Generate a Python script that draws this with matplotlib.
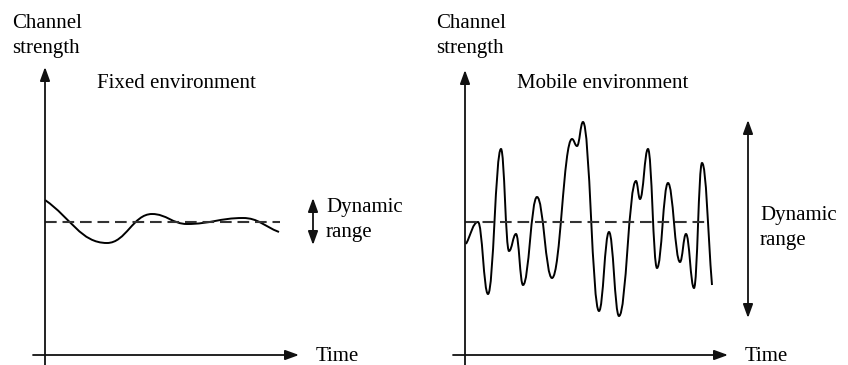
import matplotlib
matplotlib.use("Agg")
import matplotlib.pyplot as plt
from matplotlib.path import Path
from matplotlib.patches import PathPatch

plt.rcParams['font.family'] = ['Liberation Serif', 'DejaVu Serif']

W, H = 848, 365
FS = 15

# fixed environment: extrema of the channel strength (time, strength)
fixed_t = [0, 62, 107, 142, 198, 234]
fixed_s = [155, 112, 141, 131, 137, 123]
fixed_mean = 133
fixed_mean_end = 235

# mobile environment: extrema of the channel strength (time, strength)
mobile_t = [1, 13, 23, 36, 44, 51, 58, 72, 87, 107, 112, 118, 134, 144, 154,
            171, 175, 183, 192, 203, 215, 221, 229, 237, 247]
mobile_s = [111, 133, 61, 206, 104, 121, 70, 158, 77, 216, 209, 233, 44, 123, 39,
            174, 156, 206, 87, 172, 93, 121, 67, 192, 70]
mobile_mean = 133
mobile_mean_end = 242


def smooth_path(t, s, k=0.42):
    # cubic bezier through the extrema, flat tangent at each turning point
    verts = [(t[0], s[0])]
    codes = [Path.MOVETO]
    n = len(t)
    for i in range(n - 1):
        dx = t[i + 1] - t[i]
        if i == 0:
            c1 = (t[i] + dx * k, s[i] + (s[i + 1] - s[i]) * k)
        else:
            c1 = (t[i] + dx * k, s[i])
        if i + 1 == n - 1:
            c2 = (t[i + 1] - dx * k, s[i + 1] - (s[i + 1] - s[i]) * k)
        else:
            c2 = (t[i + 1] - dx * k, s[i + 1])
        verts += [c1, c2, (t[i + 1], s[i + 1])]
        codes += [Path.CURVE4] * 3
    return Path(verts, codes)


def arrow(ax, start, end, both=False):
    style = '<|-|>' if both else '-|>'
    ax.annotate('', xy=end, xytext=start, annotation_clip=False,
                arrowprops=dict(arrowstyle=style + ',head_length=0.55,head_width=0.2',
                                mutation_scale=15, lw=1.3, color='#111',
                                shrinkA=0, shrinkB=0))


def panel(x0, y0, w, h):
    # x0, y0 = position of the origin in the picture, w/h = axis lengths
    ax = fig.add_axes([x0 / W, (H - y0) / H, w / W, h / H])
    ax.set_xlim(0, w)
    ax.set_ylim(0, h)
    ax.axis('off')
    arrow(ax, (-12, 0), (w, 0))
    arrow(ax, (0, -10), (0, h))
    return ax


fig = plt.figure(figsize=(W / 100, H / 100), dpi=100)

# left panel
ax1 = panel(45, 355, 254, 288)
ax1.add_patch(PathPatch(smooth_path(fixed_t, fixed_s), fill=False, lw=1.4,
                        color='black', clip_on=False))
ax1.plot([0, fixed_mean_end], [fixed_mean, fixed_mean], color='#333', lw=1.5,
         linestyle=(0, (5.6, 2.8)), clip_on=False)
arrow(ax1, (268, 157), (268, 110), both=True)
ax1.text(281, 143, 'Dynamic', fontsize=FS, va='baseline', clip_on=False)
ax1.text(281, 118, 'range', fontsize=FS, va='baseline', clip_on=False)
ax1.text(-33, 327, 'Channel', fontsize=FS, va='baseline', clip_on=False)
ax1.text(-33, 302, 'strength', fontsize=FS, va='baseline', clip_on=False)
ax1.text(52, 267, 'Fixed environment', fontsize=FS, va='baseline', clip_on=False)
ax1.text(271, -6, 'Time', fontsize=FS, va='baseline', clip_on=False)

# right panel
ax2 = panel(465, 355, 263, 285)
ax2.add_patch(PathPatch(smooth_path(mobile_t, mobile_s), fill=False, lw=1.4,
                        color='black', clip_on=False))
ax2.plot([0, mobile_mean_end], [mobile_mean, mobile_mean], color='#333', lw=1.5,
         linestyle=(0, (5.6, 2.8)), clip_on=False)
arrow(ax2, (283, 37), (283, 235), both=True)
ax2.text(295, 135, 'Dynamic', fontsize=FS, va='baseline', clip_on=False)
ax2.text(295, 110, 'range', fontsize=FS, va='baseline', clip_on=False)
ax2.text(-29, 327, 'Channel', fontsize=FS, va='baseline', clip_on=False)
ax2.text(-29, 302, 'strength', fontsize=FS, va='baseline', clip_on=False)
ax2.text(52, 267, 'Mobile environment', fontsize=FS, va='baseline', clip_on=False)
ax2.text(280, -6, 'Time', fontsize=FS, va='baseline', clip_on=False)

fig.savefig('out.png', dpi=100)
